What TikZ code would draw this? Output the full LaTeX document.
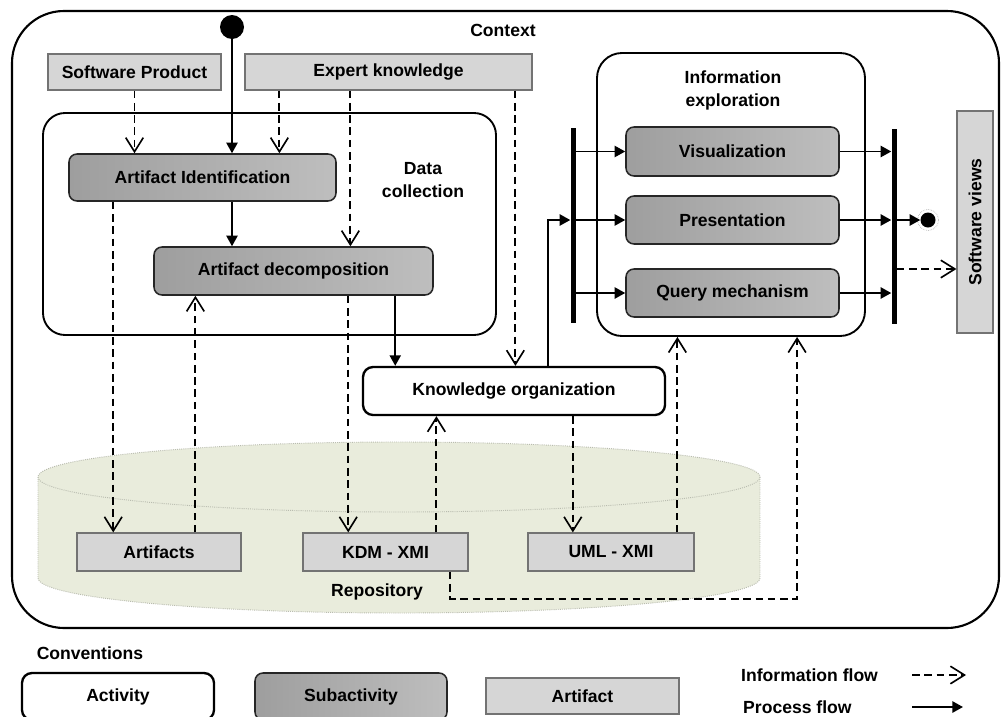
\documentclass[tikz,border=0pt]{standalone}
\usepackage{fontspec}
\setmainfont{Liberation Sans}
\usetikzlibrary{arrows.meta,calc}

\newlength{\du}
\setlength{\du}{0.3mm}

\definecolor{artgray}{RGB}{214,214,214}
\definecolor{subdark}{RGB}{158,158,158}
\definecolor{sublight}{RGB}{190,190,190}
\definecolor{repocolor}{RGB}{233,236,220}
\definecolor{repoline}{RGB}{185,188,175}

\tikzset{
  every node/.style={font=\fontsize{15}{19.5}\selectfont\bfseries, inner sep=0pt},
  artifact/.style={rectangle, draw=black!55, fill=artgray, line width=1pt},
  subact/.style={rectangle, rounded corners=8\du, draw=black!85, line width=1.3pt,
    left color=subdark, right color=sublight},
  activ/.style={rectangle, rounded corners=10\du, draw=black, fill=white, line width=2pt},
  region/.style={rectangle, rounded corners=22\du, draw=black, line width=1.6pt},
  bar/.style={rectangle, fill=black, minimum width=5\du},
  info/.style={line width=1.6pt, dash pattern=on 6.5pt off 4pt,
    -{Straight Barb[length=12pt,width=15pt,line width=1.4pt]}},
  proc/.style={line width=1.6pt, -{Triangle[length=9pt,width=9.5pt]}},
}

\begin{document}
\begin{tikzpicture}[x=\du,y=-\du]
\useasboundingbox (0,0) rectangle (1003,716);
\clip (0,0) rectangle (1003,716);

% context frame
\draw[line width=1.8pt, rounded corners=52\du, fill=white] (12,11) rectangle (999,628);
\node (ctxlabel) at (503,30) {Context};

% repository cylinder
\fill[repocolor] (38,477) rectangle (760,578);
\fill[repocolor] (399,578) ellipse [x radius=361, y radius=35];
\fill[repocolor] (399,477) ellipse [x radius=361, y radius=35];
\draw[repoline, densely dotted, line width=0.8pt] (399,477) ellipse [x radius=361, y radius=35];
\draw[repoline, densely dotted, line width=0.8pt] (38,477) -- (38,578)
  arc[start angle=180, end angle=0, x radius=361, y radius=35] -- (760,477);
\node (replabel) at (377,592) {Repository};

% regions
\node[region, minimum width=453\du, minimum height=222\du] (datacol) at (269.5,224) {};
\node[align=center] (dclabel) at (423,180) {Data\\collection};
\node[region, rounded corners=25\du, minimum width=268\du, minimum height=283\du] (infoexp) at (731,194.5) {};
\node[align=center] (ielabel) at (733,90.5) {Information\\exploration};

% start node
\node[circle, fill=black, minimum size=24\du] (start) at (232,27) {};

% artifacts
\node[artifact, minimum width=173\du, minimum height=36\du] (swprod) at (134.5,72) {Software Product};
\node[artifact, minimum width=287\du, minimum height=36\du] (expert) at (388.5,72) {Expert knowledge};
\node[artifact, minimum width=164\du, minimum height=38\du] (artifacts) at (159,552) {Artifacts};
\node[artifact, minimum width=165\du, minimum height=38\du] (kdm) at (385.5,552) {KDM - XMI};
\node[artifact, minimum width=166\du, minimum height=38\du] (uml) at (611,552) {UML - XMI};
\node[artifact, minimum width=36\du, minimum height=222\du] (swviews) at (975,222) {};
\node[rotate=90] (swvlabel) at (swviews) {Software views};

% activities
\node[subact, minimum width=267\du, minimum height=47\du] (artid) at (202.5,177.5) {Artifact Identification};
\node[subact, minimum width=279\du, minimum height=48\du] (artdec) at (293.5,271) {Artifact decomposition};
\node[activ, minimum width=302\du, minimum height=48\du] (know) at (514,391) {Knowledge organization};
\node[subact, minimum width=213\du, minimum height=49\du] (vis) at (732.5,151.5) {Visualization};
\node[subact, minimum width=213\du, minimum height=48\du] (pres) at (732.5,220) {Presentation};
\node[subact, minimum width=213\du, minimum height=48\du] (query) at (732.5,293) {Query mechanism};

% fork / join and final node
\node[bar, minimum height=195\du] (fork) at (573,225.5) {};
\node[bar, minimum height=195\du] (join) at (894,226.5) {};
\node[circle, fill=black, minimum size=15\du] (final) at (928,220) {};
\node[circle, draw=black!40, densely dotted, line width=0.5pt, minimum size=21\du] (finalring) at (928,220) {};

% process flow
\draw[proc] (start) -- (start |- artid.north);
\draw[proc] (artid.south -| start) -- (artdec.north -| start);
\draw[proc] ($(artdec.south west)+(242,0)$) coordinate (d2) -- (d2 |- know.north);
\draw[proc] ($(know.north west)+(186,0)$) coordinate (k4) |- (fork.west |- pres.west);
\draw[proc] (fork.east |- vis.west) -- (vis.west);
\draw[proc] (fork.east |- pres.west) -- (pres.west);
\draw[proc] (fork.east |- query.west) -- (query.west);
\draw[proc] (vis.east) -- (join.west |- vis.east);
\draw[proc] (pres.east) -- (join.west |- pres.east);
\draw[proc] (query.east) -- (join.west |- query.east);
\draw[proc] (join.east |- final) -- (final.west);

% information flow
\draw[info] (swprod.south) -- (swprod.south |- artid.north);
\draw[info] ($(expert.south west)+(35,0)$) coordinate (e1) -- (e1 |- artid.north);
\draw[info] ($(expert.south west)+(106,0)$) coordinate (e2) -- (e2 |- artdec.north);
\draw[info] ($(expert.south west)+(271,0)$) coordinate (e3) -- (e3 |- know.north);
\draw[info] ($(artid.south west)+(45,0)$) coordinate (a1) -- (a1 |- artifacts.north);
\draw[info] ($(artifacts.north west)+(119,0)$) coordinate (a2) -- (a2 |- artdec.south);
\draw[info] ($(artdec.south west)+(195,0)$) coordinate (d1) -- (d1 |- kdm.north);
\draw[info] ($(kdm.north west)+(134,0)$) coordinate (k1) -- (k1 |- know.south);
\draw[info] ($(know.south west)+(211,0)$) coordinate (k2) -- (k2 |- uml.north);
\draw[info] ($(uml.north west)+(150,0)$) coordinate (u1) -- (u1 |- infoexp.south);
\draw[info] ($(kdm.south west)+(148,0)$) -- ++(0,27) -| ($(infoexp.south west)+(201,0)$);
\draw[info] ($(join.east)+(0,42.5)$) coordinate (j1) -- (j1 -| swviews.west);

% conventions
\node (convlabel) at (90,653) {Conventions};
\node[activ, minimum width=192\du, minimum height=47\du] (legact) at (118,696.5) {Activity};
\node[subact, minimum width=192\du, minimum height=47\du] (legsub) at (351,696.5) {Subactivity};
\node[artifact, minimum width=193\du, minimum height=36\du] (legart) at (582.5,696) {Artifact};
\node[anchor=west] (leginfo) at (741,675) {Information flow};
\node[anchor=west] (legproc) at (743,707) {Process flow};
\coordinate (li1) at (912,675);
\coordinate (li2) at (966,675);
\coordinate (lp1) at (912,707);
\coordinate (lp2) at (963,707);
\draw[info] (li1) -- (li2);
\draw[proc] (lp1) -- (lp2);
\end{tikzpicture}
\end{document}
